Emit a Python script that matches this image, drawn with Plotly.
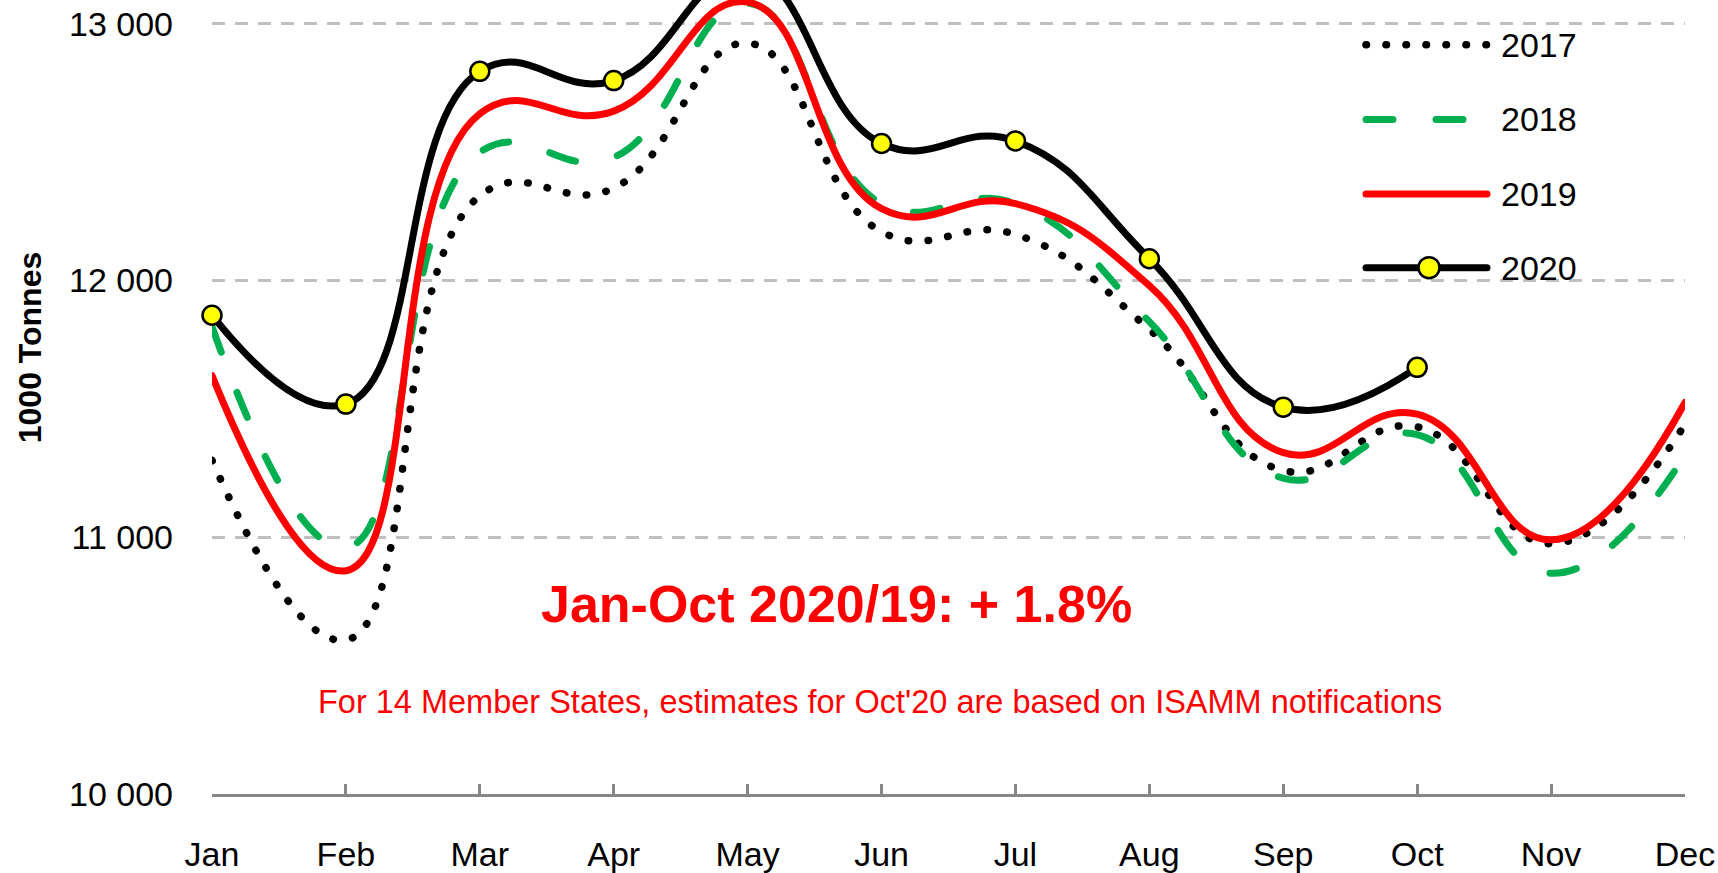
import plotly.graph_objects as go

months = ["Jan", "Feb", "Mar", "Apr", "May", "Jun", "Jul", "Aug", "Sep", "Oct", "Nov", "Dec"]
y2017 = [11300, 10600, 12330, 12360, 12925, 12190, 12180, 11810, 11260, 11430, 10975, 11440]
y2018 = [11820, 10960, 12500, 12480, 13080, 12300, 12300, 11840, 11230, 11400, 10860, 11320]
y2019 = [11630, 10870, 12650, 12660, 13085, 12280, 12300, 11980, 11330, 11480, 10990, 11525]
y2020 = [11865, 11519, 12815, 12779, 13200, 12534, 12544, 12085, 11507, 11662, None, None]
series_names = ["2017", "2018", "2019", "2020"]
ytick_vals = [10000, 11000, 12000, 13000]
ytick_text = ["10 000", "11 000", "12 000", "13 000"]
headline = "Jan-Oct 2020/19: + 1.8%"
note = "For 14 Member States, estimates for Oct'20 are based on ISAMM notifications"
ytitle = "1000 Tonnes"

W, H = 1718, 873
L, R, T, B = 212, 33, 0, 75
PW, PH = W - L - R, H - T - B
FONT = "Liberation Sans, Arial, sans-serif"

def px(x):
    return (x - L) / PW

def py(y):
    return (H - B - y) / PH

GREEN = "#00B050"
RED = "#FF0000"
BLACK = "#000000"
YELLOW = "#FFFF00"
LW = 7
SM = 1.3
DOT = "0.5px,19.5px"
DASH = "27px,43px"

fig = go.Figure()
fig.add_trace(go.Scatter(x=months, y=y2017, name=series_names[0], mode="lines",
                         line=dict(color=BLACK, width=7.5, dash=DOT, shape="spline", smoothing=SM),
                         showlegend=False))
fig.add_trace(go.Scatter(x=months, y=y2018, name=series_names[1], mode="lines",
                         line=dict(color=GREEN, width=LW, dash=DASH, shape="spline", smoothing=SM),
                         showlegend=False))
fig.add_trace(go.Scatter(x=months, y=y2019, name=series_names[2], mode="lines",
                         line=dict(color=RED, width=LW, shape="spline", smoothing=SM),
                         showlegend=False))
fig.add_trace(go.Scatter(x=months, y=y2020, name=series_names[3], mode="lines+markers",
                         line=dict(color=BLACK, width=LW, shape="spline", smoothing=SM),
                         marker=dict(color=YELLOW, size=19, line=dict(color=BLACK, width=2.5)),
                         cliponaxis=False, showlegend=False))

# custom legend
leg_y = [45, 120, 195, 269]
leg_x0, leg_x1, leg_tx = 1366, 1487, 1499
styles = [
    dict(color=BLACK, width=7.5, dash=DOT),
    dict(color=GREEN, width=LW, dash=DASH),
    dict(color=RED, width=LW),
    dict(color=BLACK, width=LW),
]
shapes = []
annotations = []
for name, yy, st in zip(series_names, leg_y, styles):
    shapes.append(dict(type="line", xref="paper", yref="paper",
                       x0=px(leg_x0), x1=px(leg_x1), y0=py(yy), y1=py(yy), line=st))
    annotations.append(dict(text=name, xref="paper", yref="paper", x=px(leg_tx), y=py(yy),
                            xanchor="left", yanchor="middle", showarrow=False,
                            font=dict(family=FONT, size=34, color=BLACK)))
shapes.append(dict(type="circle", xref="paper", yref="paper", xsizemode="pixel", ysizemode="pixel",
                   xanchor=px(1429), yanchor=py(269), x0=-10.5, x1=10.5, y0=-10.5, y1=10.5,
                   fillcolor=YELLOW, line=dict(color=BLACK, width=2.5)))

annotations.append(dict(text=headline, xref="paper", yref="paper", x=px(836), y=py(607),
                        xanchor="center", yanchor="middle", showarrow=False,
                        font=dict(family=FONT, size=52, color=RED, weight="bold")))
annotations.append(dict(text=note, xref="paper", yref="paper", x=px(880), y=py(706),
                        xanchor="center", yanchor="middle", showarrow=False,
                        font=dict(family=FONT, size=32.5, color=RED)))
annotations.append(dict(text=ytitle, xref="paper", yref="paper", x=px(30), y=py(350),
                        xanchor="center", yanchor="middle", showarrow=False, textangle=-90,
                        font=dict(family=FONT, size=32, color=BLACK, weight="bold")))

fig.update_layout(
    width=W, height=H,
    margin=dict(l=L, r=R, t=T, b=B, pad=0),
    paper_bgcolor="white", plot_bgcolor="white",
    shapes=shapes, annotations=annotations,
    showlegend=False,
    xaxis=dict(type="category", range=[0, 11], showgrid=False, zeroline=False,
               showline=True, linecolor="#878787", linewidth=3,
               ticks="inside", ticklen=10, tickwidth=2.5, tickcolor="#878787",
               ticklabelstandoff=28,
               tickfont=dict(family=FONT, size=34, color=BLACK)),
    yaxis=dict(range=[10000, 10000 + PH / 0.258], tickvals=ytick_vals, ticktext=ytick_text,
               showgrid=True, gridcolor="#BFBFBF", gridwidth=3, griddash="13px,10px",
               zeroline=False, showline=False, ticks="",
               ticklabelstandoff=38,
               tickfont=dict(family=FONT, size=34, color=BLACK)),
)

post = """
document.body.style.margin='0';
var st=document.createElement('style');
st.innerHTML='.scatterlayer .js-line, .shapelayer path{stroke-linecap:round;}';
document.head.appendChild(st);
"""
fig.write_html("out.html", post_script=post, config={"displayModeBar": False})
